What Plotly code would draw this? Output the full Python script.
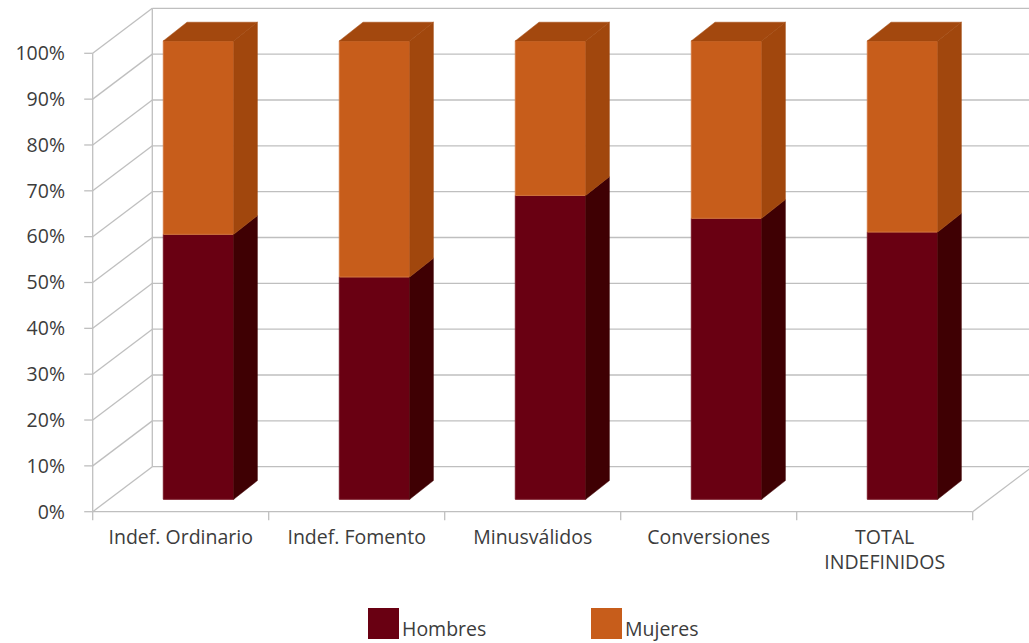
import plotly.graph_objects as go

# ---------------- data ----------------
categories = ["Indef. Ordinario", "Indef. Fomento", "Minusválidos", "Conversiones", "TOTAL<br>INDEFINIDOS"]
hombres = [57.8, 48.5, 66.3, 61.3, 58.3]
mujeres = [42.2, 51.5, 33.7, 38.7, 41.7]
series_names = ["Hombres", "Mujeres"]
y_tick_values = list(range(0, 101, 10))
y_tick_labels = [f"{v}%" for v in y_tick_values]

# ---------------- styles ----------------
C_H_FRONT = "#690012"
C_H_SIDE = "#3F0003"
C_M_FRONT = "#C75D1B"
C_M_SIDE = "#A1470D"
C_M_TOP = "#A3480E"
GRID = "#BFBFBF"
TEXT = "#3C3C3C"
FONT = "'Open Sans', Lato, sans-serif"
FS = 19.5

W, H = 1029, 643
L, R, T, B = 66, 0, 5, 120
PW, PH = W - L - R, H - T - B
PX_CAT = 176.0     # pixels per category
PX_PCT = 4.584     # pixels per percent
X0_PX = 92.7       # pixel position of front-left corner
Y0_PX = 511.7      # pixel position of front floor edge

x_lo = -0.5 - (X0_PX - L) / PX_CAT
x_hi = x_lo + PW / PX_CAT
y_lo = -((H - B) - Y0_PX) / PX_PCT
y_hi = y_lo + PH / PX_PCT


def dx(px):
    return px / PX_CAT


def dy(px):
    return px / PX_PCT


WALL_DX, WALL_DY = dx(59.6), dy(45.0)
BAR_DX, BAR_DY = dx(17.8), dy(12.4)
DEP_DX, DEP_DY = dx(23.7), dy(18.7)
BAR_W = dx(70.4)

n = len(categories)
idx = list(range(n))
bar_x = [i + BAR_DX for i in idx]

fig = go.Figure()

# front faces
fig.add_trace(go.Bar(x=bar_x, y=hombres, base=[BAR_DY] * n, width=BAR_W,
                     marker=dict(color=C_H_FRONT, line=dict(width=1, color="#7A1A28")),
                     name=series_names[0], showlegend=False))
fig.add_trace(go.Bar(x=bar_x, y=mujeres, base=[BAR_DY + h for h in hombres], width=BAR_W,
                     marker=dict(color=C_M_FRONT, line=dict(width=1, color="#D2773F")),
                     name=series_names[1], showlegend=False))


def side_faces(bottoms, tops):
    xs, ys = [], []
    for i in idx:
        xr = bar_x[i] + BAR_W / 2
        y0, y1 = bottoms[i], tops[i]
        xs += [xr, xr + DEP_DX, xr + DEP_DX, xr, xr, None]
        ys += [y0, y0 + DEP_DY, y1 + DEP_DY, y1, y0, None]
    return xs, ys


h_bot = [BAR_DY] * n
h_top = [BAR_DY + h for h in hombres]
m_top = [BAR_DY + h + m for h, m in zip(hombres, mujeres)]

xs, ys = side_faces(h_bot, h_top)
fig.add_trace(go.Scatter(x=xs, y=ys, fill="toself", fillcolor=C_H_SIDE, mode="lines",
                         line=dict(width=0.5, color=C_H_SIDE), showlegend=False, hoverinfo="skip"))
xs, ys = side_faces(h_top, m_top)
fig.add_trace(go.Scatter(x=xs, y=ys, fill="toself", fillcolor=C_M_SIDE, mode="lines",
                         line=dict(width=0.5, color=C_M_SIDE), showlegend=False, hoverinfo="skip"))
# tops
xs, ys = [], []
for i in idx:
    xl, xr, t = bar_x[i] - BAR_W / 2, bar_x[i] + BAR_W / 2, m_top[i]
    xs += [xl, xr, xr + DEP_DX, xl + DEP_DX, xl, None]
    ys += [t, t, t + DEP_DY, t + DEP_DY, t, None]
fig.add_trace(go.Scatter(x=xs, y=ys, fill="toself", fillcolor=C_M_TOP, mode="lines",
                         line=dict(width=0.5, color=C_M_TOP), showlegend=False, hoverinfo="skip"))

# ---------------- walls / grid ----------------
shapes = []


def seg(x0, y0, x1, y1, layer="below"):
    shapes.append(dict(type="line", xref="x", yref="y", x0=x0, y0=y0, x1=x1, y1=y1,
                       line=dict(color=GRID, width=1.3), layer=layer))


left = -0.5
right = n - 0.5
for v in y_tick_values:
    seg(left + WALL_DX, v + WALL_DY, right + WALL_DX, v + WALL_DY)   # back wall
    seg(left, v, left + WALL_DX, v + WALL_DY)                         # side wall
    seg(left - dx(8.5), v, left, v)                                   # tick mark
seg(left + WALL_DX, WALL_DY, left + WALL_DX, 100 + WALL_DY)
seg(left, 0, left, 100)
seg(left, 0, right, 0)
seg(right, 0, right + WALL_DX, WALL_DY)
for b in range(n + 1):
    seg(b - 0.5, 0, b - 0.5, -dy(8.5))

# ---------------- legend ----------------
def paper_x(px):
    return (px - L) / PW


def paper_y(py):
    return ((H - B) - py) / PH


legend_colors = [C_H_FRONT, C_M_FRONT]
legend_sq_x = [368, 591]
annotations = []
for name, col, sx in zip(series_names, legend_colors, legend_sq_x):
    shapes.append(dict(type="rect", xref="paper", yref="paper",
                       x0=paper_x(sx), x1=paper_x(sx + 31), y0=paper_y(639), y1=paper_y(608),
                       fillcolor=col, line=dict(width=0)))
    annotations.append(dict(xref="paper", yref="paper", x=paper_x(sx + 33), y=paper_y(628),
                            text=name, showarrow=False, xanchor="left", yanchor="middle",
                            borderpad=0,
                            font=dict(family=FONT, size=FS, color=TEXT)))

fig.update_layout(
    width=W, height=H,
    margin=dict(l=L, r=R, t=T, b=B, pad=0),
    paper_bgcolor="white", plot_bgcolor="white",
    barmode="overlay",
    showlegend=False,
    shapes=shapes,
    annotations=annotations,
    font=dict(family=FONT, size=FS, color=TEXT),
    xaxis=dict(range=[x_lo, x_hi], tickvals=idx, ticktext=categories, showgrid=False,
               zeroline=False, showline=False, ticks="", tickfont=dict(size=FS, color=TEXT)),
    yaxis=dict(range=[y_lo, y_hi], tickvals=y_tick_values, ticktext=y_tick_labels,
               showgrid=False, zeroline=False, showline=False, ticks="",
               tickfont=dict(size=FS, color=TEXT)),
)

fig.write_html("out.html", config={"displayModeBar": False},
               post_script="document.body.style.margin='0';document.body.style.overflow='hidden';")
